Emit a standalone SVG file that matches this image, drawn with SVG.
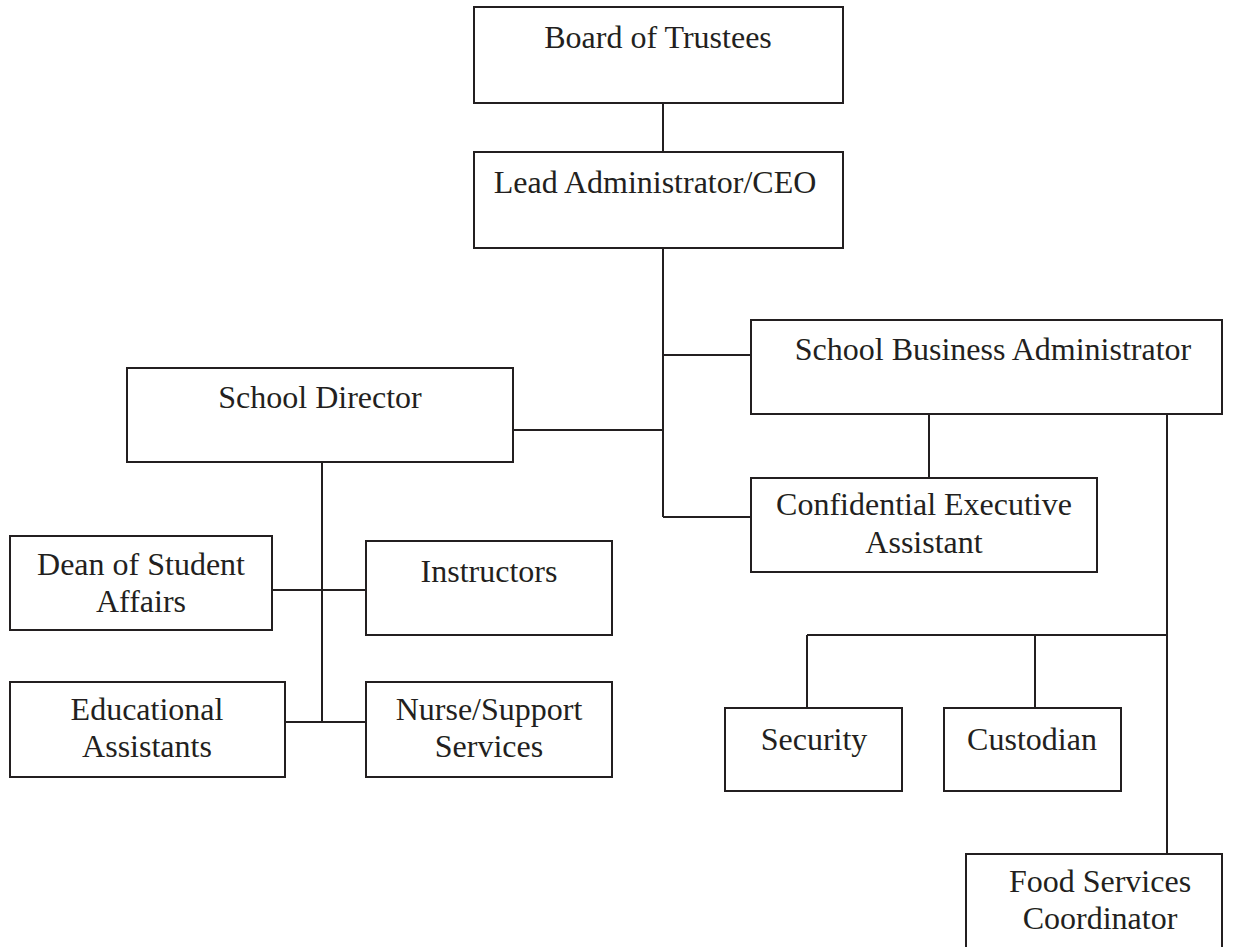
<svg xmlns="http://www.w3.org/2000/svg" width="1236" height="947" viewBox="0 0 1236 947">
<style>
.box{fill:#fff;stroke:#231f20;stroke-width:2}
.ln{stroke:#231f20;stroke-width:2;fill:none}
text{font-family:"Liberation Serif","Times New Roman",serif;font-size:32px;fill:#231f20;text-anchor:middle}
</style>
<rect width="1236" height="947" fill="#fff"/>
<g id="connectors">
<line class="ln" x1="663" y1="103" x2="663" y2="152"/>
<line class="ln" x1="663" y1="248" x2="663" y2="517"/>
<line class="ln" x1="663" y1="355" x2="751" y2="355"/>
<line class="ln" x1="513" y1="430" x2="663" y2="430"/>
<line class="ln" x1="663" y1="517" x2="751" y2="517"/>
<line class="ln" x1="929" y1="414" x2="929" y2="478"/>
<line class="ln" x1="1167" y1="414" x2="1167" y2="854"/>
<line class="ln" x1="807" y1="635" x2="1167" y2="635"/>
<line class="ln" x1="807" y1="635" x2="807" y2="708"/>
<line class="ln" x1="1035" y1="635" x2="1035" y2="708"/>
<line class="ln" x1="322" y1="462" x2="322" y2="722"/>
<line class="ln" x1="272" y1="590" x2="366" y2="590"/>
<line class="ln" x1="285" y1="722" x2="366" y2="722"/>
</g>
<g id="board"><rect class="box" x="474" y="7" width="369" height="96"/><text x="658" y="48">Board of Trustees</text></g>
<g id="lead"><rect class="box" x="474" y="152" width="369" height="96"/><text x="655" y="193">Lead Administrator/CEO</text></g>
<g id="sba"><rect class="box" x="751" y="320" width="471" height="94"/><text x="993" y="360">School Business Administrator</text></g>
<g id="director"><rect class="box" x="127" y="368" width="386" height="94"/><text x="320" y="408">School Director</text></g>
<g id="confidential"><rect class="box" x="751" y="478" width="346" height="94"/><text x="924" y="515">Confidential Executive</text><text x="924" y="553">Assistant</text></g>
<g id="dean"><rect class="box" x="10" y="536" width="262" height="94"/><text x="141" y="575">Dean of Student</text><text x="141" y="612">Affairs</text></g>
<g id="instructors"><rect class="box" x="366" y="541" width="246" height="94"/><text x="489" y="582">Instructors</text></g>
<g id="educational"><rect class="box" x="10" y="682" width="275" height="95"/><text x="147" y="720">Educational</text><text x="147" y="757">Assistants</text></g>
<g id="nurse"><rect class="box" x="366" y="682" width="246" height="95"/><text x="489" y="720">Nurse/Support</text><text x="489" y="757">Services</text></g>
<g id="security"><rect class="box" x="725" y="708" width="177" height="83"/><text x="814" y="750">Security</text></g>
<g id="custodian"><rect class="box" x="944" y="708" width="177" height="83"/><text x="1032" y="750">Custodian</text></g>
<g id="food"><rect class="box" x="966" y="854" width="256" height="100"/><text x="1100" y="892">Food Services</text><text x="1100" y="929">Coordinator</text></g>
</svg>
